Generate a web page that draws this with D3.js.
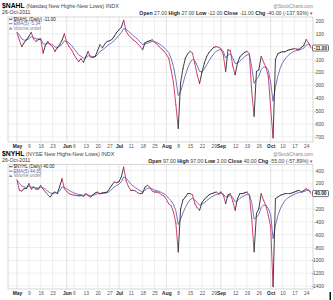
<!DOCTYPE html>
<head>
  <meta charset="utf-8">
  <style>
    body { margin: 0; background: #fff; }
    svg { display: block; font-family: "Liberation Sans", Arial, sans-serif; }
  </style>
</head>
<body>
  <svg width="333" height="300"></svg>
  <script src="https://cdn.jsdelivr.net/npm/d3@7"></script>
  <script>

  // trading days, 2011 (MM-DD)
  var tradingDays = ["05-02","05-03","05-04","05-05","05-06","05-09","05-10","05-11","05-12","05-13","05-16","05-17","05-18","05-19","05-20","05-23","05-24","05-25","05-26","05-27","05-31",
    "06-01","06-02","06-03","06-06","06-07","06-08","06-09","06-10","06-13","06-14","06-15","06-16","06-17","06-20","06-21","06-22","06-23","06-24","06-27","06-28","06-29","06-30",
    "07-01","07-05","07-06","07-07","07-08","07-11","07-12","07-13","07-14","07-15","07-18","07-19","07-20","07-21","07-22","07-25","07-26","07-27","07-28","07-29",
    "08-01","08-02","08-03","08-04","08-05","08-08","08-09","08-10","08-11","08-12","08-15","08-16","08-17","08-18","08-19","08-22","08-23","08-24","08-25","08-26","08-29","08-30","08-31",
    "09-01","09-02","09-06","09-07","09-08","09-09","09-12","09-13","09-14","09-15","09-16","09-19","09-20","09-21","09-22","09-23","09-26","09-27","09-28","09-29","09-30",
    "10-03","10-04","10-05","10-06","10-07","10-10","10-11","10-12","10-13","10-14","10-17","10-18","10-19","10-20","10-21","10-24","10-25","10-26"];

  var dateTicks = ["05-02","05-09","05-16","05-23","06-01","06-06","06-13","06-20","06-27","07-01","07-11","07-18","07-25",
    "08-01","08-08","08-15","08-22","08-29","09-01","09-12","09-19","09-26","10-03","10-10","10-17","10-24"];
  var dateTickLabels = ["May","9","16","23","Jun","6","13","20","27","Jul","11","18","25",
    "Aug","8","15","22","29","Sep","12","19","26","Oct","10","17","24"];

  var nahlTicks = [200, 100, 0, -100, -200, -300, -400, -500, -600, -700];
  var nyhlTicks = [400, 200, 0, -200, -400, -600, -800, -1000, -1200, -1400];

  var nahlClose = [110,50,0,30,53,80,110,60,40,55,
    60,-50,10,40,15,0,-37,-10,15,50,
    100,30,0,-24,-60,-90,-115,-95,-122,-80,
    -37,-80,-85,-76,-30,15,-10,20,40,45,
    55,80,110,130,150,205,120,90,70,53,
    40,20,0,-24,30,40,45,53,35,20,
    0,-20,-35,-60,-90,-180,-280,-450,-635,-280,
    -170,-90,-55,-37,-50,-130,-220,-285,-200,-130,
    -76,-45,-24,-5,0,-5,-15,-63,-192,-24,
    -30,-150,-218,-127,-80,-60,-45,-37,-55,-350,
    -541,-192,-180,-76,-120,-160,-231,-480,-708,-101,
    -55,-45,-40,-40,-30,-24,-20,-15,-20,-20,
    -5,10,55,29,-11];

  var nahlEma = [110,90,60,50,51,61,77,71,61,59,
    59,23,19,26,22,15,-3,-5,2,18,
    45,40,27,10,-14,-39,-64,-75,-90,-87,
    -70,-74,-77,-77,-61,-36,-27,-12,6,19,
    31,47,68,89,109,141,134,119,103,86,
    71,54,36,16,21,27,33,40,38,32,
    21,8,-7,-24,-46,-91,-154,-253,-380,-347,
    -288,-222,-166,-123,-99,-109,-146,-192,-195,-173,
    -141,-109,-81,-55,-37,-26,-23,-36,-88,-67,
    -55,-86,-130,-129,-113,-95,-78,-65,-61,-158,
    -285,-254,-230,-178,-159,-159,-183,-282,-424,-316,
    -229,-168,-125,-97,-75,-58,-45,-35,-30,-27,
    -20,-10,12,18,8];

  var nyhlClose = [250,90,80,116,120,194,110,140,110,110,
    168,110,64,20,-14,40,64,39,150,272,
    116,70,39,25,15,12,5,10,-3,39,
    10,-14,20,50,64,39,50,55,64,116,
    170,220,210,225,300,452,245,150,90,90,
    80,50,39,50,140,168,140,80,64,64,
    50,20,0,-50,-120,-150,-250,-420,-870,-200,
    -60,-14,39,40,20,-117,-180,-220,-100,-50,
    -14,20,39,50,64,39,64,20,-117,20,
    39,-80,-220,-39,39,39,50,64,12,-350,
    -868,-272,-194,39,-65,-150,-300,-480,-1411,-39,
    -14,12,25,39,40,39,50,64,80,90,
    64,90,116,95,40];

  var nyhlEma = [250,197,158,144,136,155,140,140,130,123,
    138,129,107,78,48,45,51,47,82,145,
    135,114,89,68,50,37,27,21,13,22,
    18,7,12,24,38,38,42,46,52,74,
    106,144,166,186,224,300,282,238,189,156,
    131,104,82,71,94,119,126,111,95,85,
    73,55,37,8,-35,-73,-132,-228,-442,-361,
    -261,-179,-106,-57,-32,-60,-100,-140,-127,-101,
    -72,-41,-14,7,26,30,42,34,-16,-4,
    10,-20,-87,-71,-34,-10,10,28,23,-102,
    -357,-329,-284,-176,-139,-143,-195,-290,-664,-456,
    -308,-202,-126,-71,-34,-10,10,28,45,60,
    62,71,86,89,73];

  var svg = d3.select("svg");

  var left = 8, right = 313;
  var upColor = "#2b2b2b", downColor = "#cc2d5e", emaColor = "#6464b8";

  var x = d3.scalePoint()
      .domain(tradingDays)
      .range([17, 311]);

  function drawPanel(p) {
    var y = d3.scaleLinear().domain(p.domain).range([p.bottom, p.top]);
    var g = svg.append("g");

    // header
    var t = g.append("text").attr("x", 2).attr("y", p.titleY);
    t.append("tspan").attr("font-size", 6.8).attr("font-weight", "bold").text(p.symbol);
    t.append("tspan").attr("font-size", 5.5).attr("fill", "#444").text(" " + p.name);

    g.append("text").attr("x", 2).attr("y", p.titleY + 6.5)
        .attr("font-size", 5.2).attr("fill", "#333").text("26-Oct-2011");

    g.append("text").attr("x", right).attr("y", p.titleY + 0.8)
        .attr("text-anchor", "end").attr("font-size", 4.6).attr("fill", "#888")
        .text("@StockCharts.com");

    var o = g.append("text").attr("x", right).attr("y", p.titleY + 7.5)
        .attr("text-anchor", "end").attr("font-size", 5.2).attr("fill", "#444");
    p.ohlc.forEach(function(d, i) {
      o.append("tspan").attr("font-weight", "bold").attr("fill", "#222").text((i ? " " : "") + d[0] + " ");
      o.append("tspan").text(d[1]);
    });
    o.append("tspan").attr("fill", downColor).text(" \u25BE");

    // grid
    g.selectAll(".hgrid").data(p.ticks).enter().append("line")
        .attr("x1", left).attr("x2", right)
        .attr("y1", function(d) { return y(d); })
        .attr("y2", function(d) { return y(d); })
        .attr("stroke", "#e4e4e4").attr("stroke-width", 0.6);

    g.selectAll(".vgrid").data(dateTicks).enter().append("line")
        .attr("x1", function(d) { return x(d); })
        .attr("x2", function(d) { return x(d); })
        .attr("y1", p.top).attr("y2", p.bottom)
        .attr("stroke", function(d, i) { return isNaN(+dateTickLabels[i]) ? "#cfcfcf" : "#e4e4e4"; })
        .attr("stroke-width", 0.6);

    g.append("rect")
        .attr("x", left).attr("y", p.top)
        .attr("width", right - left).attr("height", p.bottom - p.top)
        .attr("fill", "none").attr("stroke", "#bdbdbd").attr("stroke-width", 0.6);

    // axes (the zero label sits under the last-value box, so it is left blank)
    var ya = g.append("g")
        .attr("transform", "translate(" + right + ",0)")
        .call(d3.axisRight(y).tickValues(p.ticks).tickSize(0)
          .tickFormat(function(d) { return d === 0 ? "" : d; }));
    ya.select(".domain").remove();
    ya.selectAll("text")
        .attr("x", 11).attr("text-anchor", "end")
        .attr("font-size", 4.9).attr("fill", "#444")
        .attr("font-family", "Liberation Sans, Arial, sans-serif");

    var xa = g.append("g")
        .attr("transform", "translate(0," + p.bottom + ")")
        .call(d3.axisBottom(x).tickValues(dateTicks).tickSize(0)
          .tickFormat(function(d, i) { return dateTickLabels[i]; }));
    xa.select(".domain").remove();
    xa.selectAll("text")
        .attr("y", 3).attr("font-size", 4.9)
        .attr("font-family", "Liberation Sans, Arial, sans-serif")
        .attr("fill", function(d, i) { return isNaN(+dateTickLabels[i]) ? "#222" : "#555"; })
        .attr("font-weight", function(d, i) { return isNaN(+dateTickLabels[i]) ? "bold" : "normal"; });

    // EMA line
    var line = d3.line()
        .x(function(d, i) { return x(tradingDays[i]); })
        .y(function(d) { return y(d); });

    g.append("path")
        .attr("d", line(p.ema))
        .attr("fill", "none").attr("stroke", emaColor).attr("stroke-width", 0.9);

    // price line, coloured by direction
    g.selectAll(".seg").data(d3.pairs(d3.range(p.values.length))).enter().append("line")
        .attr("x1", function(d) { return x(tradingDays[d[0]]); })
        .attr("x2", function(d) { return x(tradingDays[d[1]]); })
        .attr("y1", function(d) { return y(p.values[d[0]]); })
        .attr("y2", function(d) { return y(p.values[d[1]]); })
        .attr("stroke", function(d) { return p.values[d[1]] >= p.values[d[0]] ? upColor : downColor; })
        .attr("stroke-width", 0.9).attr("stroke-linecap", "round");

    // legend
    var ly = p.top + 3.6;
    var leg = [
      { color: upColor, text: p.symbol + " (Daily) " + p.closeText, fill: "#222" },
      { color: emaColor, text: "EMA(5) " + p.emaText, fill: emaColor },
      { color: "#777", text: "Volume undef", fill: "#888" }
    ];
    leg.forEach(function(d, i) {
      var yy = ly + i * 4.5;
      if (i < 2) {
        g.append("line").attr("x1", 9).attr("x2", 12.5)
            .attr("y1", yy - 1.4).attr("y2", yy - 1.4)
            .attr("stroke", d.color).attr("stroke-width", 0.9);
      } else {
        g.append("path").attr("d", "M9," + yy + "L10.2," + (yy - 3) + "L10.8," + yy + "L11.6," + (yy - 2) + "L12.4," + yy + "Z")
            .attr("fill", d.color);
      }
      g.append("text").attr("x", 13.5).attr("y", yy)
          .attr("font-size", 4.5).attr("fill", d.fill).text(d.text);
    });

    // last value box
    var cy = y(p.values[p.values.length - 1]);
    g.append("rect").attr("x", 312.5).attr("y", cy - 3).attr("width", 16).attr("height", 6)
        .attr("rx", 1).attr("fill", "#fff").attr("stroke", "#333").attr("stroke-width", 0.7);
    g.append("text").attr("x", 320.5).attr("y", cy + 1.7).attr("text-anchor", "middle")
        .attr("font-size", 4.8).attr("font-weight", "bold").attr("fill", "#222").text(p.closeText);
  }

  drawPanel({
    symbol: "$NAHL", name: "(Nasdaq New Highs-New Lows) INDX",
    titleY: 7.5, top: 17, bottom: 142, domain: [-740, 230], ticks: nahlTicks,
    values: nahlClose, ema: nahlEma, closeText: "-11.00", emaText: "-5.34",
    ohlc: [["Open", "27.00"], ["High", "27.00"], ["Low", "-12.00"], ["Close", "-11.00"], ["Chg", "-40.00 (-137.93%)"]]
  });

  drawPanel({
    symbol: "$NYHL", name: "(NYSE New Highs-New Lows) INDX",
    titleY: 155.5, top: 164.5, bottom: 289, domain: [-1447, 493], ticks: nyhlTicks,
    values: nyhlClose, ema: nyhlEma, closeText: "40.00", emaText: "44.95",
    ohlc: [["Open", "97.00"], ["High", "97.00"], ["Low", "3.00"], ["Close", "40.00"], ["Chg", "-55.00 (-57.89%)"]]
  });

  svg.append("rect").attr("x", 329.5).attr("y", 292).attr("width", 1.5).attr("height", 8).attr("fill", "#111");

  </script>
</body>
